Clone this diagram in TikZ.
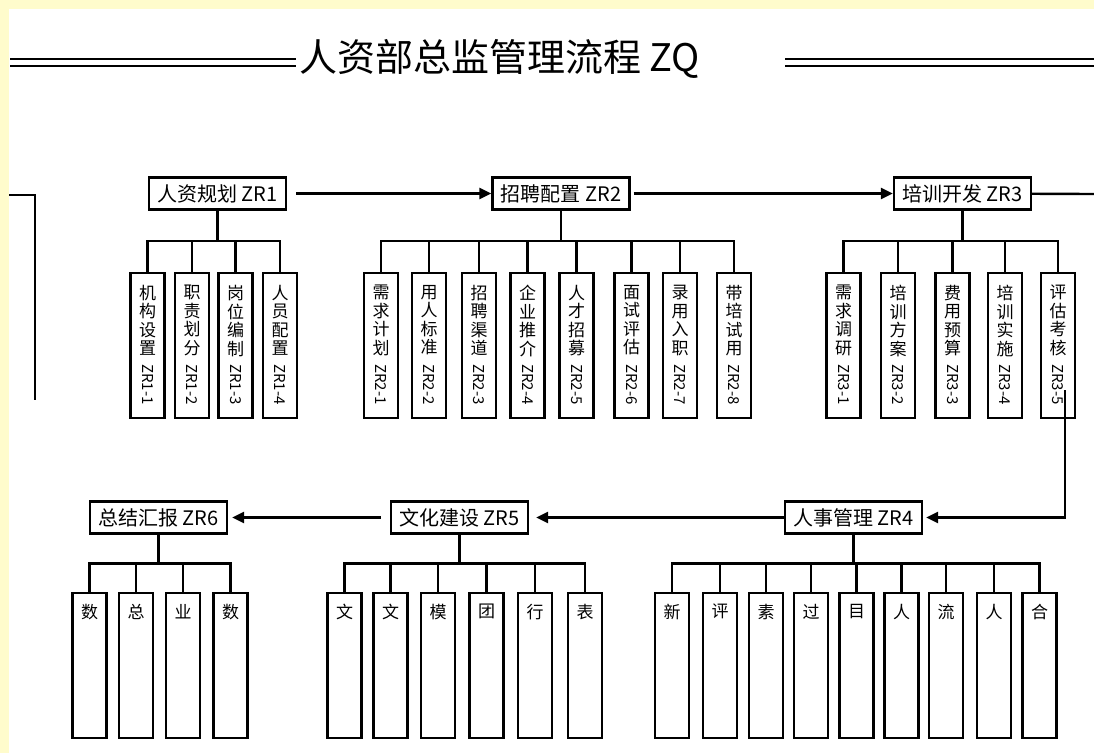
\documentclass[tikz,border=0pt]{standalone}
\usepackage{fontspec}
\setmainfont{Noto Sans CJK SC}
\usetikzlibrary{arrows.meta}

\definecolor{pageyellow}{RGB}{255,252,204}

\tikzset{
  mainbox/.style={draw,line width=2.2pt,minimum width=137pt,minimum height=32pt,inner sep=0pt,font=\fontsize{20}{22}\selectfont},
  subbox/.style={draw,line width=2.2pt,minimum width=34pt,minimum height=145pt,inner sep=0pt,anchor=north},
  subtext/.style={align=center,anchor=north,inner sep=0pt,font=\fontsize{17}{18.5}\selectfont},
  subcode/.style={rotate=-90,anchor=west,inner sep=0pt,font=\fontsize{15}{15}\selectfont},
  link/.style={line width=2.4pt},
  flow/.style={line width=2.4pt,-{Triangle[length=12pt,width=11pt]}}
}

\begin{document}
\begin{tikzpicture}[x=1pt,y=-1pt]
  \useasboundingbox (0,0) rectangle (1094,753);
  \fill[pageyellow] (0,0) rectangle (1094,753);
  \fill[white] (9,9) rectangle (1094,753);

  \node[anchor=west,inner sep=0pt,font=\fontsize{38}{42}\selectfont] (title) at (299,59) {人资部总监管理流程 ZQ};
  \draw[line width=2.8pt] (10,59) -- (296,59);
  \draw[line width=1.4pt] (10,66) -- (296,66);
  \draw[line width=2.8pt] (785,59) -- (1094,59);
  \draw[line width=1.4pt] (785,66) -- (1094,66);

  \node[mainbox] (zr1) at (217.5,193.5) {人资规划 ZR1};
  \node[mainbox] (zr2) at (561,193.5) {招聘配置 ZR2};
  \node[mainbox] (zr3) at (962.5,193.5) {培训开发 ZR3};
  \node[mainbox] (zr6) at (158.5,517.5) {总结汇报 ZR6};
  \node[mainbox] (zr5) at (459.5,517.5) {文化建设 ZR5};
  \node[mainbox] (zr4) at (853.5,517.5) {人事管理 ZR4};

  \draw[flow,shorten <=9pt] (zr1) -- (zr2);
  \draw[flow,shorten <=3pt] (zr2) -- (zr3);
  \draw[flow,shorten >=7pt] (zr4) -- (zr5);
  \draw[flow,shorten <=9pt,shorten >=4pt] (zr5) -- (zr6);

  \coordinate (lin) at (9,195);
  \coordinate (ldown) at (35,400);
  \draw[link] (lin) -| (ldown);
  \coordinate (rout) at (1094,194);
  \draw[link] (zr3) -- (rout);
  \coordinate (rin) at (1065,390);
  \draw[flow,shorten >=3pt] (rin) |- (zr4);

  \foreach \x/\t [count=\i] in {147.5/{机\\构\\设\\置},192/{职\\责\\划\\分},235.5/{岗\\位\\编\\制},280/{人\\员\\配\\置}}{
    \node[subbox] (zr1-\i) at (\x,272) {};
    \node[subtext] (zr1-\i-t) at (\x,285) {\t};
    \node[subcode] (zr1-\i-c) at (\x,364) {ZR1-\i};
    \draw[link] (zr1.south) -- ++(0,30.5) -| (zr1-\i.north);
  }
  \foreach \x/\t [count=\i] in {381/{需\\求\\计\\划},429/{用\\人\\标\\准},479/{招\\聘\\渠\\道},527.5/{企\\业\\推\\介},576.5/{人\\才\\招\\募},631.5/{面\\试\\评\\估},680/{录\\用\\入\\职},734/{带\\培\\试\\用}}{
    \node[subbox] (zr2-\i) at (\x,272) {};
    \node[subtext] (zr2-\i-t) at (\x,285) {\t};
    \node[subcode] (zr2-\i-c) at (\x,364) {ZR2-\i};
    \draw[link] (zr2.south) -- ++(0,30.5) -| (zr2-\i.north);
  }
  \foreach \x/\t [count=\i] in {843.5/{需\\求\\调\\研},898/{培\\训\\方\\案},952.5/{费\\用\\预\\算},1005/{培\\训\\实\\施},1058/{评\\估\\考\\核}}{
    \node[subbox] (zr3-\i) at (\x,272) {};
    \node[subtext] (zr3-\i-t) at (\x,285) {\t};
    \node[subcode] (zr3-\i-c) at (\x,364) {ZR3-\i};
    \draw[link] (zr3.south) -- ++(0,30.5) -| (zr3-\i.north);
  }

  \foreach \x/\t [count=\i] in {89.5/数,136/总,183/业,230.5/数}{
    \node[subbox] (zr6-\i) at (\x,592) {};
    \node[subtext] (zr6-\i-t) at (\x,604) {\t};
    \draw[link] (zr6.south) -- ++(0,29) -| (zr6-\i.north);
  }
  \foreach \x/\t [count=\i] in {344.5/文,390.5/文,438/模,486.5/团,535/行,585/表}{
    \node[subbox] (zr5-\i) at (\x,592) {};
    \node[subtext] (zr5-\i-t) at (\x,604) {\t};
    \draw[link] (zr5.south) -- ++(0,29) -| (zr5-\i.north);
  }
  \foreach \x/\t [count=\i] in {672/新,720/评,766/素,811/过,856.5/目,901.5/人,946/流,994/人,1039.5/合}{
    \node[subbox] (zr4-\i) at (\x,592) {};
    \node[subtext] (zr4-\i-t) at (\x,604) {\t};
    \draw[link] (zr4.south) -- ++(0,29) -| (zr4-\i.north);
  }
\end{tikzpicture}
\end{document}
